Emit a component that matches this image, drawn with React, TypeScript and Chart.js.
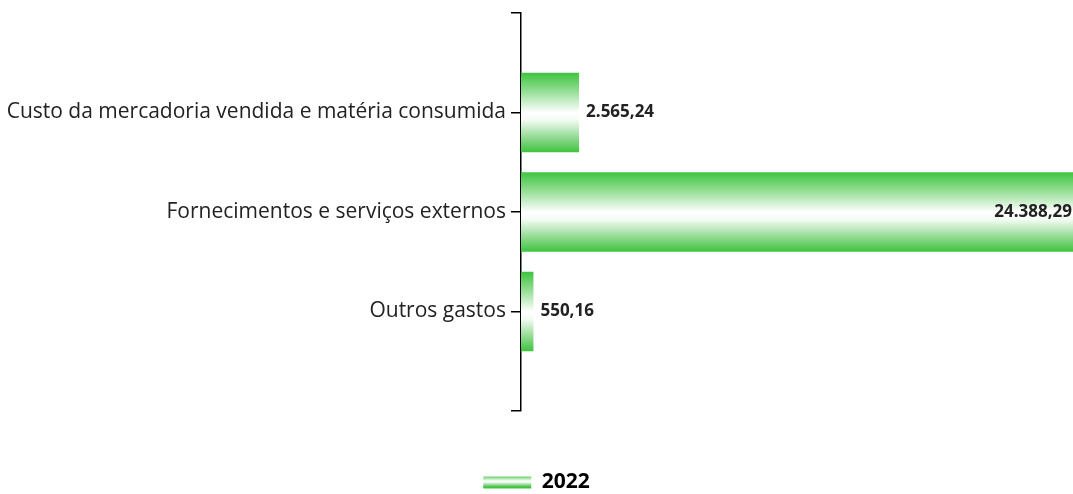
import React, { useEffect, useRef } from "react";
import { Chart, registerables } from "chart.js";

Chart.register(...registerables);

const categories = [
  "",
  "Custo da mercadoria vendida e matéria consumida",
  "Fornecimentos e serviços externos",
  "Outros gastos",
  "",
];
const values2022: (number | null)[] = [null, 2565.24, 24388.29, 550.16, null];
const seriesLabel = "2022";
const xMax = 24388.29;

function fmt(v: number): string {
  const [i, d] = v.toFixed(2).split(".");
  return i.replace(/\B(?=(\d{3})+(?!\d))/g, ".") + "," + d;
}

function makeGradient(ctx: CanvasRenderingContext2D, top: number, bottom: number) {
  const g = ctx.createLinearGradient(0, top, 0, bottom);
  g.addColorStop(0, "#3ec43e");
  g.addColorStop(0.22, "#8fdc8f");
  g.addColorStop(0.5, "#ffffff");
  g.addColorStop(0.6, "#f2fbf2");
  g.addColorStop(0.84, "#86d686");
  g.addColorStop(1, "#3ec43e");
  return g;
}

const valueLabels = {
  id: "valueLabels",
  afterDatasetsDraw(chart: any) {
    const ctx = chart.ctx;
    const meta = chart.getDatasetMeta(0);
    ctx.save();
    ctx.font = "bold 17px 'Open Sans', sans-serif";
    ctx.fillStyle = "#222";
    ctx.textBaseline = "middle";
    meta.data.forEach((el: any, i: number) => {
      const v = values2022[i];
      if (v == null) return;
      const txt = fmt(v);
      const w = ctx.measureText(txt).width;
      if (el.x + 8 + w > chart.chartArea.right) {
        ctx.textAlign = "right";
        ctx.fillText(txt, el.x - 1, el.y);
      } else {
        ctx.textAlign = "left";
        ctx.fillText(txt, el.x + 7, el.y);
      }
    });
    ctx.restore();
  },
};

export default function App() {
  const ref = useRef<HTMLCanvasElement | null>(null);
  useEffect(() => {
    document.body.style.margin = "0";
    const canvas = ref.current!;
    const chart = new Chart(canvas, {
      type: "bar",
      data: {
        labels: categories,
        datasets: [
          {
            label: seriesLabel,
            data: values2022,
            categoryPercentage: 0.8,
            barPercentage: 1,
            borderWidth: 0,
            backgroundColor: (c: any) => {
              const ch = c.chart;
              const ys = ch.scales && ch.scales.y;
              if (!ys || c.dataIndex == null) return "#3ec43e";
              const center = ys.getPixelForValue(c.dataIndex);
              const spacing = ys.getPixelForValue(1) - ys.getPixelForValue(0);
              const h = spacing * 0.8;
              return makeGradient(ch.ctx, center - h / 2, center + h / 2);
            },
          },
        ],
      },
      options: {
        indexAxis: "y",
        animation: false,
        responsive: false,
        maintainAspectRatio: false,
        layout: { padding: { top: 13, right: 0, left: 0, bottom: -9 } },
        scales: {
          x: {
            min: 0,
            max: xMax,
            display: true,
            ticks: { display: false },
            grid: { display: false },
            border: { display: false },
            afterFit: (s: any) => {
              s.height = 55;
            },
          },
          y: {
            offset: false,
            grid: {
              display: true,
              offset: false,
              drawOnChartArea: false,
              drawTicks: true,
              tickLength: 10,
              color: "#000",
              lineWidth: 1.5,
            },
            border: { display: true, color: "#000", width: 1.5 },
            ticks: {
              color: "#222",
              padding: 5,
              font: { family: "'Open Sans', sans-serif", size: 21 },
            },
            afterFit: (s: any) => {
              s.width = 521;
              s.paddingTop = 0;
              s.paddingBottom = 0;
            },
          },
        },
        plugins: {
          tooltip: { enabled: false },
          legend: {
            position: "bottom",
            labels: {
              boxWidth: 48,
              boxHeight: 12,
              padding: 6,
              color: "#222",
              font: { family: "'Open Sans', sans-serif", size: 21, weight: "bold" },
              generateLabels: (ch: any) => {
                const g = makeGradient(ch.ctx, 475, 487);
                return [
                  {
                    text: seriesLabel,
                    fillStyle: g,
                    strokeStyle: "rgba(0,0,0,0)",
                    lineWidth: 0,
                    datasetIndex: 0,
                    hidden: false,
                  },
                ];
              },
            },
          },
        },
      },
      plugins: [valueLabels],
    } as any);
    return () => chart.destroy();
  }, []);
  return <canvas ref={ref} width={1073} height={494} style={{ display: "block" }} />;
}
